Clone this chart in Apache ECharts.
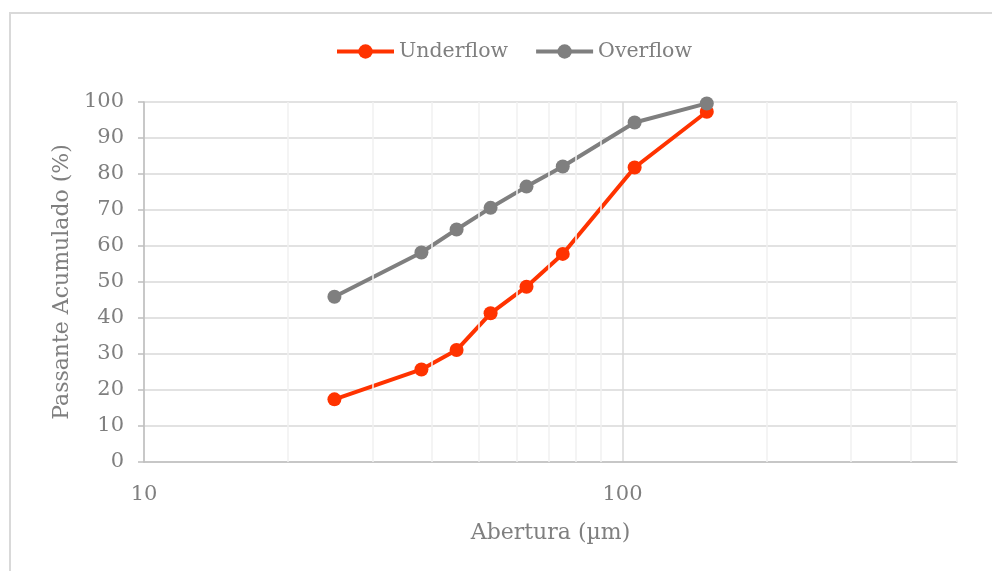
<!DOCTYPE html>
<html>
<head>
<meta charset="utf-8">
<script src="https://cdn.jsdelivr.net/npm/echarts@6/dist/echarts.min.js"></script>
<style>
html,body{margin:0;padding:0;background:#fff;}
#chart{width:992px;height:571px;}
</style>
</head>
<body>
<div id="chart"></div>
<script>
var aberturas = [25, 38, 45, 53, 63, 75, 106, 150];
var underflow = [17.4, 25.7, 31.1, 41.3, 48.7, 57.8, 81.8, 97.3];
var overflow = [45.9, 58.2, 64.6, 70.6, 76.5, 82.1, 94.3, 99.6];
var minorGridValues = [20, 30, 40, 50, 60, 70, 80, 90, 200, 300, 400, 500];
var seriesNames = ['Underflow', 'Overflow'];
var xAxisName = 'Abertura (µm)';
var yAxisName = 'Passante Acumulado (%)';

var FONT = 'DejaVu Serif';
var TXT = '#7F7F7F';

function pairs(xs, ys) { return xs.map(function (x, i) { return [x, ys[i]]; }); }

var chart = echarts.init(document.getElementById('chart'), null, {renderer: 'canvas'});
chart.setOption({
  backgroundColor: '#ffffff',
  animation: false,
  textStyle: {fontFamily: FONT},
  graphic: [{
    type: 'rect', silent: true, z: -10,
    shape: {x: 10, y: 13, width: 1000, height: 600},
    style: {fill: null, stroke: '#D9D9D9', lineWidth: 2}
  }],
  legend: {
    top: 36, left: 330,
    itemWidth: 57, itemHeight: 18, itemGap: 26,
    lineStyle: {width: 4},
    textStyle: {fontFamily: FONT, fontSize: 20.5, color: TXT},
    data: seriesNames
  },
  grid: {left: 144, right: 35, top: 102, bottom: 109, containLabel: false},
  xAxis: {
    type: 'log', logBase: 10, min: 10, max: 500,
    name: xAxisName, nameLocation: 'middle', nameGap: 60,
    nameTextStyle: {fontFamily: FONT, fontSize: 22, color: TXT},
    axisLine: {show: true, onZero: false, lineStyle: {color: '#BFBFBF', width: 1.5}},
    axisTick: {show: false},
    axisLabel: {
      fontFamily: FONT, fontSize: 21, color: TXT, margin: 22,
      formatter: function (v) { return (v === 10 || v === 100) ? String(v) : ''; }
    },
    splitLine: {show: true, lineStyle: {color: ['#D9D9D9', '#D9D9D9', '#F0F0F0'], width: 1.5}}
  },
  yAxis: {
    type: 'value', min: 0, max: 100, interval: 10,
    name: yAxisName, nameLocation: 'middle', nameGap: 70, nameRotate: 90,
    nameTextStyle: {fontFamily: FONT, fontSize: 22, color: TXT},
    axisLine: {show: true, lineStyle: {color: '#BFBFBF', width: 1.5}},
    axisTick: {show: true, inside: false, length: 6, lineStyle: {color: '#BFBFBF', width: 1.5}},
    axisLabel: {fontFamily: FONT, fontSize: 21, color: TXT, margin: 20},
    splitLine: {show: true, lineStyle: {color: '#D9D9D9', width: 1.5}}
  },
  series: [
    {
      name: '__minorgrid', type: 'line', data: [], silent: true,
      markLine: {
        silent: true, symbol: 'none', label: {show: false},
        lineStyle: {color: '#F0F0F0', type: 'solid', width: 1.5},
        emphasis: {disabled: true},
        data: minorGridValues.map(function (v) { return {xAxis: v}; })
      },
      z: 0
    },
    {
      name: seriesNames[0], type: 'line', data: pairs(aberturas, underflow),
      symbol: 'circle', symbolSize: 14,
      lineStyle: {color: '#FF3300', width: 4},
      itemStyle: {color: '#FF3300'},
      z: 3
    },
    {
      name: seriesNames[1], type: 'line', data: pairs(aberturas, overflow),
      symbol: 'circle', symbolSize: 14,
      lineStyle: {color: '#7F7F7F', width: 4},
      itemStyle: {color: '#7F7F7F'},
      z: 4
    }
  ]
});
</script>
</body>
</html>
